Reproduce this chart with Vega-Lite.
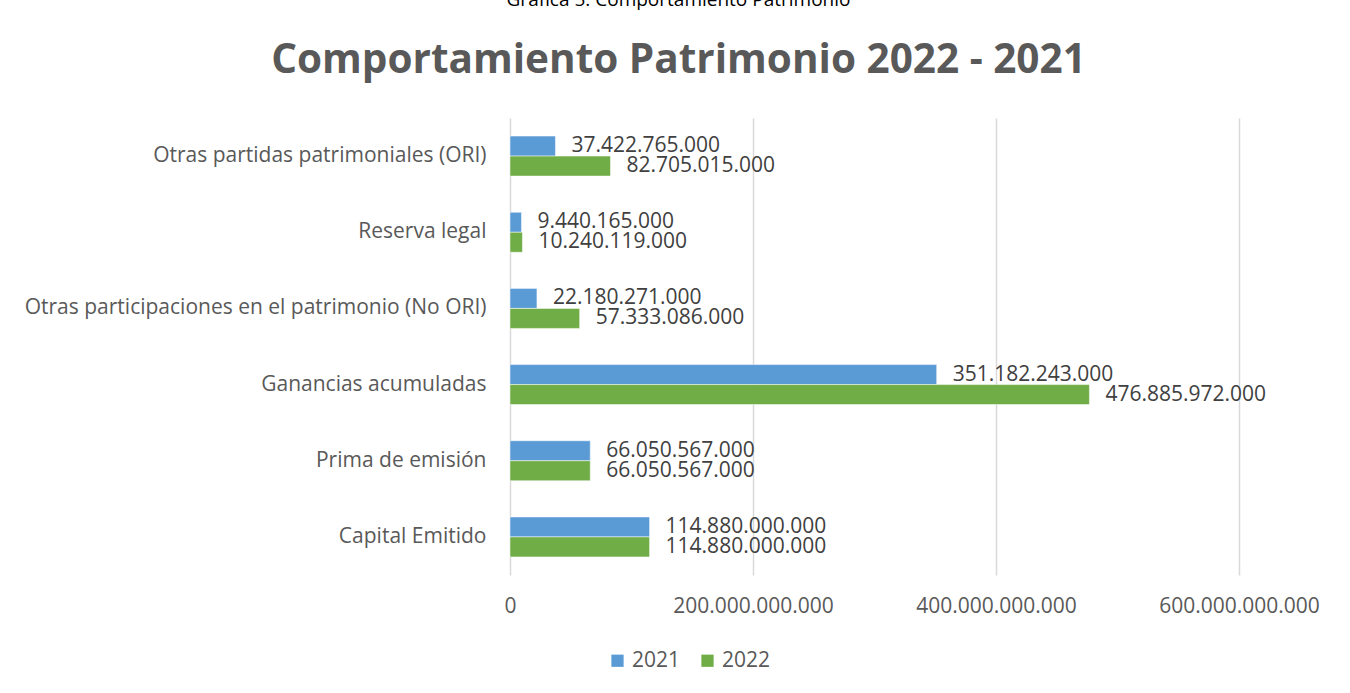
{
  "$schema": "https://vega.github.io/schema/vega-lite/v6.json",
  "width": 729,
  "height": 457,
  "autosize": {"type": "none"},
  "padding": {"left": 510, "top": 118, "right": 111, "bottom": 118},
  "background": "white",
  "config": {
    "locale": {"number": {"decimal": ",", "thousands": ".", "grouping": [3], "currency": ["$", ""]}},
    "font": "Open Sans",
    "view": {"stroke": null}
  },
  "title": {
    "text": "Gráfica 5. Comportamiento Patrimonio",
    "subtitle": "Comportamiento Patrimonio 2022 - 2021",
    "anchor": "middle",
    "dx": -196,
    "offset": 37,
    "font": "Open Sans",
    "fontSize": 19,
    "fontWeight": "normal",
    "color": "#000000",
    "subtitleFont": "Open Sans",
    "subtitleFontSize": 40.5,
    "subtitleFontWeight": "bold",
    "subtitleColor": "#595959",
    "subtitlePadding": 31
  },
  "data": {
    "values": [
      {"cuenta": "Otras partidas patrimoniales (ORI)", "anio": "2021", "valor": 37422765000},
      {"cuenta": "Otras partidas patrimoniales (ORI)", "anio": "2022", "valor": 82705015000},
      {"cuenta": "Reserva legal", "anio": "2021", "valor": 9440165000},
      {"cuenta": "Reserva legal", "anio": "2022", "valor": 10240119000},
      {"cuenta": "Otras participaciones en el patrimonio (No ORI)", "anio": "2021", "valor": 22180271000},
      {"cuenta": "Otras participaciones en el patrimonio (No ORI)", "anio": "2022", "valor": 57333086000},
      {"cuenta": "Ganancias acumuladas", "anio": "2021", "valor": 351182243000},
      {"cuenta": "Ganancias acumuladas", "anio": "2022", "valor": 476885972000},
      {"cuenta": "Prima de emisión", "anio": "2021", "valor": 66050567000},
      {"cuenta": "Prima de emisión", "anio": "2022", "valor": 66050567000},
      {"cuenta": "Capital Emitido", "anio": "2021", "valor": 114880000000},
      {"cuenta": "Capital Emitido", "anio": "2022", "valor": 114880000000}
    ]
  },
  "encoding": {
    "y": {
      "field": "cuenta",
      "type": "nominal",
      "sort": null,
      "scale": {"paddingInner": 0.475, "paddingOuter": 0.2375},
      "axis": {
        "title": null,
        "domain": false,
        "ticks": false,
        "labelPadding": 24,
        "labelFontSize": 21,
        "labelColor": "#595959",
        "labelLimit": 0,
        "grid": false
      }
    },
    "yOffset": {"field": "anio", "type": "nominal", "scale": {"paddingInner": 0, "paddingOuter": 0}},
    "x": {
      "field": "valor",
      "type": "quantitative",
      "scale": {"domain": [0, 600000000000], "nice": false},
      "axis": {
        "title": null,
        "values": [0, 200000000000, 400000000000, 600000000000],
        "labelExpr": "format(datum.value, ',.0f')",
        "labelFlush": false,
        "labelOverlap": false,
        "labelBound": false,
        "domain": false,
        "ticks": false,
        "grid": true,
        "gridColor": "#d9d9d9",
        "gridWidth": 1.5,
        "labelPadding": 20,
        "labelFontSize": 21,
        "labelColor": "#595959"
      }
    }
  },
  "layer": [
    {
      "mark": {"type": "bar", "stroke": "white", "strokeWidth": 0.5},
      "encoding": {
        "color": {
          "field": "anio",
          "type": "nominal",
          "scale": {"domain": ["2021", "2022"], "range": ["#5B9BD5", "#70AD47"]},
          "legend": {
            "title": null,
            "orient": "none",
            "legendX": 97,
            "legendY": 532,
            "direction": "horizontal",
            "symbolType": "square",
            "symbolSize": 150,
            "symbolStrokeWidth": 0,
            "labelFontSize": 21,
            "labelColor": "#595959",
            "columnPadding": 16,
            "labelOffset": 4
          }
        }
      }
    },
    {
      "mark": {"type": "text", "align": "left", "baseline": "middle", "dx": 16, "fontSize": 21, "color": "#404040"},
      "encoding": {
        "text": {"field": "valor", "type": "quantitative", "format": ",.0f"}
      }
    }
  ]
}
